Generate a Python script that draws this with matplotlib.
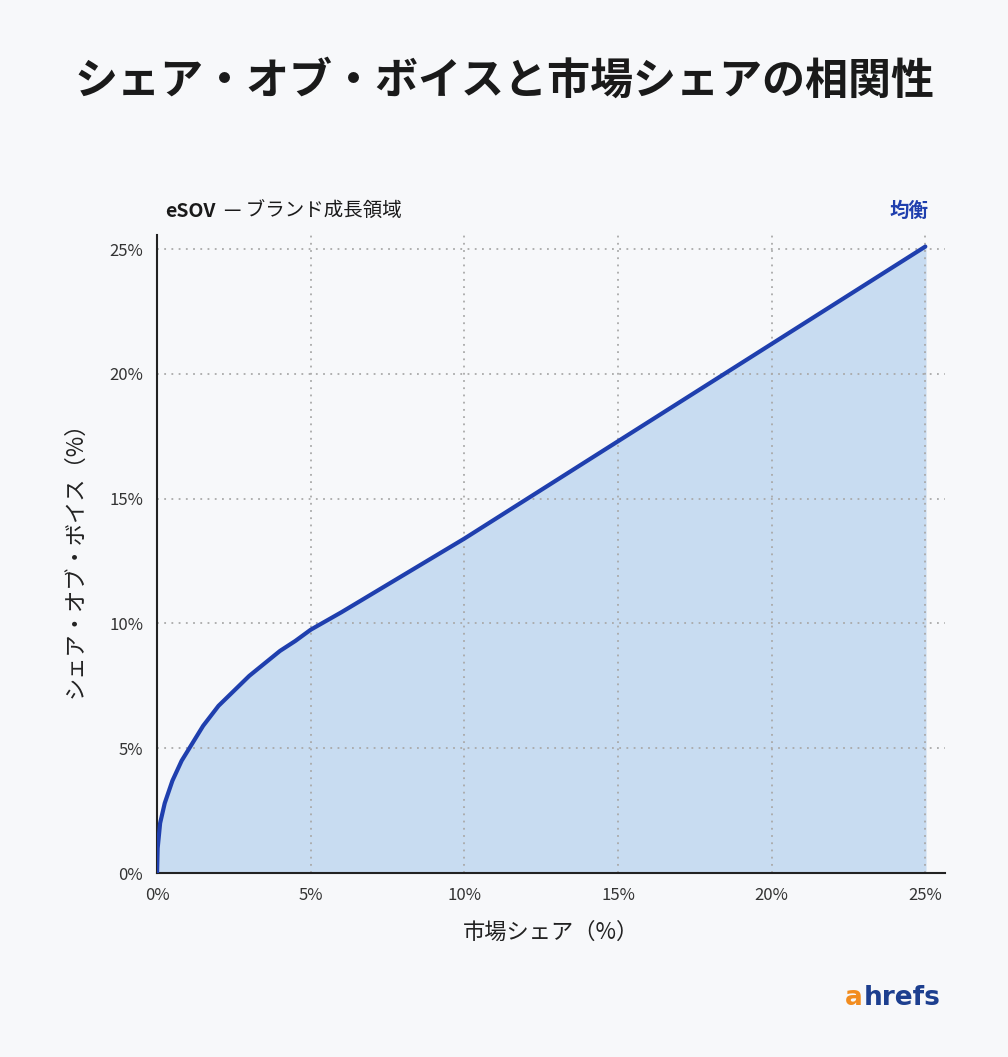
import matplotlib.pyplot as plt
from matplotlib.ticker import FuncFormatter

plt.rcParams['font.family'] = ['Noto Sans CJK JP', 'DejaVu Sans']

# market share (%) vs share of voice (%)
market_share = [0, 0.02, 0.1, 0.25, 0.5, 0.8, 1.0, 1.5, 2.0, 2.5, 3.0, 3.5, 4.0, 4.5, 5.0, 5.5,
                6.0, 10.0, 15.0, 20.0, 25.0]
share_of_voice = [0, 1.0, 2.0, 2.8, 3.7, 4.5, 4.9, 5.9, 6.7, 7.3, 7.9, 8.4, 8.9, 9.3, 9.75, 10.1,
                  10.45, 13.4, 17.3, 21.2, 25.1]
ticks = [0, 5, 10, 15, 20, 25]

bg = '#f7f8fa'
line_c = '#1f3fae'
fill_c = '#c8dcf1'

fig = plt.figure(figsize=(10.08, 10.57), dpi=100, facecolor=bg)
ax = fig.add_axes([0.1558, 0.174, 0.782, 0.6036], facecolor=bg)

ax.fill_between(market_share, share_of_voice, 0, color=fill_c, zorder=1)
ax.plot(market_share, share_of_voice, color=line_c, lw=3, zorder=3, solid_capstyle='round')

ax.set_xlim(0, 25.65)
ax.set_ylim(0, 25.56)
ax.set_xticks(ticks)
ax.set_yticks(ticks)
fmt = FuncFormatter(lambda v, p: f'{v:.0f}%')
ax.xaxis.set_major_formatter(fmt)
ax.yaxis.set_major_formatter(fmt)
ax.tick_params(length=0, labelsize=12, colors='#333333', pad=10)
ax.grid(True, ls=(0, (1, 3)), color='#aaaaaa', lw=1.3, zorder=0)
for s in ['top', 'right']:
    ax.spines[s].set_visible(False)
for s in ['left', 'bottom']:
    ax.spines[s].set_color('#222222')
    ax.spines[s].set_linewidth(1.5)

ax.set_xlabel('市場シェア（%）', fontsize=16, labelpad=12, color='#222222')
ax.set_ylabel('シェア・オブ・ボイス（%）', fontsize=16, labelpad=16, color='#222222')

fig.text(0.5, 0.924, 'シェア・オブ・ボイスと市場シェアの相関性', ha='center', va='center',
         fontsize=31, fontweight='bold', color='#1a1a1a')
fig.text(0.164, 0.8, 'eSOV', ha='left', va='center', fontsize=14, fontweight='bold', color='#1a1a1a')
fig.text(0.222, 0.8, '— ブランド成長領域', ha='left', va='center', fontsize=14, color='#1a1a1a')
fig.text(0.921, 0.8, '均衡', ha='right', va='center', fontsize=14, fontweight='bold', color=line_c)

fig.text(0.838, 0.056, 'a', ha='left', va='center', fontsize=19, fontweight='bold',
         color='#f28c1e', family='DejaVu Sans')
fig.text(0.857, 0.056, 'hrefs', ha='left', va='center', fontsize=19, fontweight='bold',
         color='#1d3f8f', family='DejaVu Sans')

fig.savefig('out.png', dpi=100, facecolor=bg)
